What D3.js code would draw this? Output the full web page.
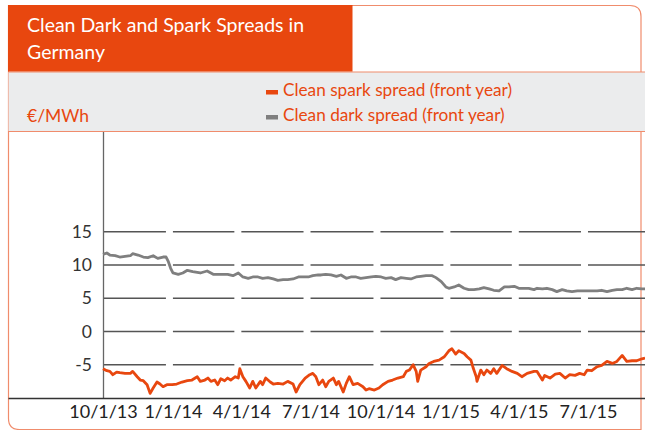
<!DOCTYPE html>
<html>
<head>
<meta charset="utf-8">
<script src="https://cdn.jsdelivr.net/npm/d3@7"></script>
<style>
  html, body { margin: 0; padding: 0; background: #fff; }
  svg { display: block; font-family: Lato, "Noto Sans", sans-serif; }
</style>
</head>
<body>
<svg id="chart" width="645" height="430"></svg>
<script>
// ---------- DATA ----------
const titleLines = ["Clean Dark and Spark Spreads in", "Germany"];
const unitLabel = "€/MWh";
const seriesNames = ["Clean spark spread (front year)", "Clean dark spread (front year)"];
const yTickValues = [-5, 0, 5, 10, 15];
const yTickLabels = ["-5", "0", "5", "10", "15"];
const xTickDates = ["2013-10-01", "2014-01-01", "2014-04-01", "2014-07-01", "2014-10-01", "2015-01-01", "2015-04-01", "2015-07-01"];
const xTickLabels = ["10/1/13", "1/1/14", "4/1/14", "7/1/14", "10/1/14", "1/1/15", "4/1/15", "7/1/15"];

const darkDates = ["2013-10-01","2013-10-06","2013-10-10","2013-10-17","2013-10-23","2013-10-30","2013-11-06","2013-11-09","2013-11-16","2013-11-23","2013-11-29","2013-12-06","2013-12-12","2013-12-19","2013-12-23","2013-12-26","2013-12-29","2014-01-01","2014-01-08","2014-01-14","2014-01-20","2014-01-27","2014-02-06","2014-02-15","2014-02-23","2014-03-01","2014-03-08","2014-03-14","2014-03-21","2014-03-28","2014-04-03","2014-04-10","2014-04-16","2014-04-23","2014-04-29","2014-05-06","2014-05-13","2014-05-19","2014-05-26","2014-06-01","2014-06-08","2014-06-15","2014-06-21","2014-06-28","2014-07-04","2014-07-11","2014-07-15","2014-07-21","2014-07-28","2014-08-04","2014-08-10","2014-08-17","2014-08-23","2014-08-30","2014-09-05","2014-09-12","2014-09-19","2014-09-25","2014-10-02","2014-10-08","2014-10-15","2014-10-21","2014-10-28","2014-11-04","2014-11-10","2014-11-17","2014-11-23","2014-11-30","2014-12-08","2014-12-13","2014-12-20","2014-12-26","2014-12-30","2015-01-06","2015-01-12","2015-01-19","2015-01-25","2015-02-01","2015-02-08","2015-02-14","2015-02-21","2015-02-27","2015-03-06","2015-03-13","2015-03-19","2015-03-26","2015-04-01","2015-04-08","2015-04-14","2015-04-21","2015-04-25","2015-05-02","2015-05-08","2015-05-15","2015-05-21","2015-05-28","2015-06-03","2015-06-10","2015-06-17","2015-06-23","2015-06-30","2015-07-06","2015-07-13","2015-07-19","2015-07-26","2015-08-02","2015-08-08","2015-08-15","2015-08-21","2015-08-28","2015-09-03","2015-09-10","2015-09-14"];
const darkValues = [11.6,11.8,11.5,11.4,11.2,11.3,11.4,11.7,11.5,11.2,11.1,11.4,11.0,11.2,11.2,10.5,9.5,8.8,8.6,8.8,9.2,9.0,8.8,9.1,8.6,8.6,8.6,8.6,8.4,8.8,8.2,8.0,8.2,8.2,8.0,8.1,7.9,7.7,7.8,7.8,7.9,8.2,8.2,8.2,8.4,8.5,8.5,8.6,8.5,8.3,8.5,8.0,8.2,8.2,8.0,8.1,8.2,8.3,8.2,8.0,8.1,7.8,8.1,8.0,7.9,8.2,8.3,8.4,8.4,8.1,7.5,6.7,6.5,6.7,7.0,6.5,6.3,6.3,6.4,6.6,6.4,6.2,6.1,6.7,6.7,6.8,6.5,6.5,6.5,6.3,6.5,6.4,6.5,6.3,6.0,6.3,6.1,6.0,6.1,6.1,6.1,6.1,6.1,6.2,6.0,6.2,6.3,6.3,6.5,6.3,6.5,6.4,6.4];

const sparkDates = ["2013-10-01","2013-10-06","2013-10-10","2013-10-14","2013-10-19","2013-10-23","2013-10-30","2013-11-06","2013-11-09","2013-11-15","2013-11-19","2013-11-23","2013-11-28","2013-12-02","2013-12-06","2013-12-11","2013-12-15","2013-12-19","2013-12-24","2013-12-31","2014-01-06","2014-01-13","2014-01-20","2014-01-26","2014-02-02","2014-02-06","2014-02-12","2014-02-16","2014-02-20","2014-02-25","2014-03-01","2014-03-05","2014-03-10","2014-03-14","2014-03-18","2014-03-24","2014-03-28","2014-03-30","2014-04-03","2014-04-07","2014-04-12","2014-04-16","2014-04-20","2014-04-26","2014-04-29","2014-05-03","2014-05-09","2014-05-13","2014-05-19","2014-05-26","2014-06-01","2014-06-08","2014-06-12","2014-06-17","2014-06-24","2014-06-30","2014-07-04","2014-07-08","2014-07-12","2014-07-17","2014-07-21","2014-07-25","2014-07-31","2014-08-04","2014-08-07","2014-08-13","2014-08-17","2014-08-21","2014-08-26","2014-09-01","2014-09-08","2014-09-12","2014-09-16","2014-09-23","2014-09-29","2014-10-04","2014-10-11","2014-10-17","2014-10-24","2014-10-31","2014-11-04","2014-11-08","2014-11-13","2014-11-17","2014-11-19","2014-11-23","2014-11-30","2014-12-04","2014-12-10","2014-12-17","2014-12-24","2014-12-30","2015-01-03","2015-01-08","2015-01-12","2015-01-19","2015-01-23","2015-01-28","2015-01-31","2015-02-04","2015-02-05","2015-02-10","2015-02-14","2015-02-18","2015-02-23","2015-02-27","2015-03-03","2015-03-10","2015-03-16","2015-03-23","2015-03-30","2015-04-05","2015-04-12","2015-04-21","2015-04-25","2015-05-02","2015-05-05","2015-05-12","2015-05-19","2015-05-25","2015-06-01","2015-06-07","2015-06-14","2015-06-20","2015-06-26","2015-06-30","2015-07-06","2015-07-13","2015-07-19","2015-07-26","2015-08-02","2015-08-08","2015-08-15","2015-08-21","2015-08-28","2015-09-03","2015-09-10","2015-09-14"];
const sparkValues = [-5.6,-5.9,-6.0,-6.5,-6.1,-6.2,-6.3,-6.3,-6.0,-6.8,-7.3,-7.4,-8.0,-9.3,-8.5,-7.6,-7.9,-8.3,-8.0,-8.0,-7.9,-7.6,-7.4,-7.3,-6.8,-7.5,-7.3,-7.0,-7.5,-7.3,-8.0,-7.1,-7.4,-7.0,-7.3,-6.8,-7.0,-5.6,-6.8,-7.5,-8.5,-7.5,-8.5,-7.5,-8.0,-7.0,-7.6,-7.9,-7.8,-7.9,-7.5,-7.9,-9.1,-8.0,-7.0,-6.5,-6.3,-6.8,-8.0,-7.3,-8.3,-7.5,-7.0,-8.0,-7.5,-9.1,-7.8,-6.8,-8.0,-7.8,-8.3,-8.8,-8.6,-8.8,-8.5,-8.0,-7.5,-7.3,-7.0,-6.8,-6.0,-5.8,-5.0,-6.0,-7.5,-5.8,-5.3,-4.8,-4.5,-4.3,-3.8,-2.9,-2.6,-3.4,-2.9,-3.3,-3.8,-4.3,-5.5,-6.8,-7.5,-5.8,-6.5,-5.8,-6.3,-5.6,-6.3,-5.1,-5.6,-6.0,-6.3,-6.8,-6.3,-6.0,-6.0,-7.3,-6.6,-7.0,-6.4,-6.3,-7.0,-6.5,-6.6,-6.3,-6.5,-5.8,-5.9,-5.3,-5.1,-4.5,-4.8,-4.5,-3.6,-4.5,-4.4,-4.4,-4.1,-4.0];

// ---------- STYLE ----------
const ORANGE = "#e8470f";
const GRAY_LINE = "#7f7f7f";
const BORDER = "#f08c6c";
const BAND = "#ebeced";
const FONT = "Lato, Noto Sans, sans-serif";

const svg = d3.select("#chart");
const parse = d3.timeParse("%Y-%m-%d");

// Frame
const L = 8.5, T = 5.5, R = 646, B = 429.5, rad = 11;
svg.append("path")
  .attr("d", `M${L},${T} L${R - rad - 5},${T} Q${R - 5},${T} ${R - 5},${T + rad} L${R - 5},${B} L${L + rad},${B} Q${L},${B} ${L},${B - rad} Z`)
  .attr("fill", "#fff").attr("stroke", BORDER).attr("stroke-width", 1.2);

// Gray band
svg.append("rect").attr("x", L).attr("y", 72).attr("width", R - L).attr("height", 59).attr("fill", BAND);
svg.append("line").attr("x1", L).attr("x2", R).attr("y1", 72).attr("y2", 72).attr("stroke", BORDER).attr("stroke-width", 1.2);
svg.append("line").attr("x1", L).attr("x2", R).attr("y1", 131.5).attr("y2", 131.5).attr("stroke", BORDER).attr("stroke-width", 1.2);

// Title box
svg.append("rect").attr("x", L - 0.5).attr("y", T - 0.5).attr("width", 353 - L).attr("height", 72 - T).attr("fill", ORANGE);
svg.append("text").attr("x", 27).attr("y", 32).attr("fill", "#fff").attr("font-size", 19.5).attr("font-family", FONT)
  .selectAll("tspan").data(titleLines).join("tspan")
  .attr("x", 27).attr("dy", (d, i) => i === 0 ? 0 : 26.5).text(d => d);

// Unit label
svg.append("text").attr("x", 27).attr("y", 122).attr("fill", ORANGE).attr("font-size", 17.5).attr("font-family", FONT).text(unitLabel);

// Legend
const legendColors = [ORANGE, GRAY_LINE];
const lg = svg.append("g");
seriesNames.forEach((name, i) => {
  const by = 96 + i * 25;
  lg.append("rect").attr("x", 266).attr("y", by - 6).attr("width", 12).attr("height", 4.5).attr("fill", legendColors[i]);
  lg.append("text").attr("x", 283).attr("y", by).attr("fill", ORANGE).attr("font-size", 17.2).attr("font-family", FONT).text(name);
});

// Scales
const x = d3.scaleTime().domain([parse("2013-10-01"), parse("2015-09-14")]).range([103, 645]);
const y = d3.scaleLinear().domain([-10, 30]).range([398, 132]);

// Dashed grid (segments between date ticks)
const tickD = xTickDates.map(parse);
const grid = svg.append("g");
yTickValues.forEach(v => {
  tickD.forEach((d, i) => {
    const x1 = x(d);
    const x2 = i < tickD.length - 1 ? x(tickD[i + 1]) - 7 : 645;
    grid.append("line").attr("x1", x1).attr("x2", x2).attr("y1", y(v)).attr("y2", y(v))
      .attr("stroke", "#555").attr("stroke-width", 1.3);
  });
});

// Y axis
const yAxis = d3.axisLeft(y).tickValues(yTickValues).tickFormat((d, i) => yTickLabels[i]).tickSize(0).tickPadding(11);
const yg = svg.append("g").attr("transform", "translate(103,0)").call(yAxis);
yg.select(".domain").remove();
yg.selectAll("text").attr("font-size", 17.5).attr("fill", "#333").attr("font-family", FONT);
svg.append("line").attr("x1", 103.5).attr("x2", 103.5).attr("y1", 132).attr("y2", 398).attr("stroke", "#666").attr("stroke-width", 1.3);

// X axis
const xAxis = d3.axisBottom(x).tickValues(tickD).tickFormat((d, i) => xTickLabels[i]).tickSize(0).tickPadding(7);
const xg = svg.append("g").attr("transform", "translate(0,398)").call(xAxis);
xg.select(".domain").remove();
xg.selectAll("text").attr("font-size", 18).attr("fill", "#222").attr("font-family", FONT);
svg.append("line").attr("x1", L).attr("x2", R).attr("y1", 398.5).attr("y2", 398.5).attr("stroke", "#333").attr("stroke-width", 1.3);

// Lines
const line = d3.line().x(d => x(d[0])).y(d => y(d[1]));
const darkData = darkDates.map((d, i) => [parse(d), darkValues[i]]);
const sparkData = sparkDates.map((d, i) => [parse(d), sparkValues[i]]);
svg.append("path").datum(darkData).attr("d", line).attr("fill", "none").attr("stroke", GRAY_LINE).attr("stroke-width", 2.8).attr("stroke-linejoin", "round");
svg.append("path").datum(sparkData).attr("d", line).attr("fill", "none").attr("stroke", ORANGE).attr("stroke-width", 2.8).attr("stroke-linejoin", "round");
</script>
</body>
</html>
